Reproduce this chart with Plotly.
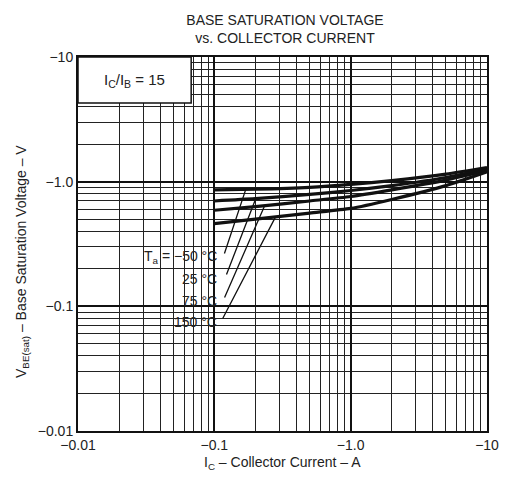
import numpy as np
import plotly.graph_objects as go

# ---- data ----
ic = [-0.1, -0.2, -0.5, -1.0, -2.0, -5.0, -10.0]
vbe_m50 = [-0.86, -0.87, -0.90, -0.95, -1.02, -1.15, -1.30]
vbe_25 = [-0.70, -0.73, -0.79, -0.85, -0.93, -1.08, -1.27]
vbe_75 = [-0.59, -0.63, -0.70, -0.76, -0.86, -1.03, -1.23]
vbe_150 = [-0.46, -0.50, -0.56, -0.61, -0.72, -0.93, -1.20]
temps = ["T<sub>a</sub> = −50 °C", "25 °C", "75 °C", "150 °C"]
series = [vbe_m50, vbe_25, vbe_75, vbe_150]

x_ticks = [-0.01, -0.1, -1.0, -10]
x_ticktext = ["−0.01", "−0.1", "−1.0", "−10"]
y_ticks = [-0.01, -0.1, -1.0, -10]
y_ticktext = ["−0.01", "−0.1", "−1.0", "−10"]

FONT = "Liberation Sans, Arial, sans-serif"
W, H = 511, 497
L, R, T, B = 78, 21, 57, 66
pw, ph = W - L - R, H - T - B

def px_to_logx(px):
    return -2 + 3 * (px - L) / pw

def py_to_logy(py):
    return 1 - 3 * (py - T) / ph

minor_vals = [k * 10.0 ** d for d in range(-2, 1) for k in range(2, 10)]

fig = go.Figure()
xa = np.abs(np.array(ic))
for s in series:
    fig.add_trace(go.Scatter(x=xa, y=np.abs(np.array(s)), mode="lines",
                             line=dict(color="#111", width=3.2, shape="spline", smoothing=0.6),
                             showlegend=False, hoverinfo="skip"))

axis_common = dict(type="log", showline=True, linecolor="#111", linewidth=2, mirror=True,
                   showgrid=True, gridcolor="#111", gridwidth=1.6, zeroline=False,
                   ticks="", tickfont=dict(family=FONT, size=14, color="#222"),
                   minor=dict(tickvals=minor_vals, showgrid=True, gridcolor="#222", gridwidth=1, ticks=""))

fig.update_xaxes(**axis_common, range=[-2, 1], tickvals=np.abs(x_ticks), ticktext=x_ticktext)
fig.update_yaxes(**axis_common, range=[-2, 1], tickvals=np.abs(y_ticks), ticktext=y_ticktext)

# Ic/Ib box
fig.add_shape(type="rect", xref="paper", yref="paper", x0=0, x1=(192 - L) / pw,
              y0=1 - (103 - T) / ph, y1=1, fillcolor="white",
              line=dict(color="#111", width=1.5), layer="above")
fig.add_annotation(xref="paper", yref="paper", x=(135 - L) / pw, y=1 - (80 - T) / ph,
                   xanchor="center", yanchor="middle",
                   text="I<sub>C</sub>/I<sub>B</sub> = 15", showarrow=False,
                   font=dict(family=FONT, size=15, color="#222"))

# temperature labels + leader lines
label_py = [257, 279, 301, 322]
tails = [(225, 255), (227, 276), (225, 299), (223, 320)]
head_px = [247, 257, 266, 277]
lx = np.log10(xa)
for i, s in enumerate(series):
    fig.add_annotation(xref="x", yref="y", x=px_to_logx(220), y=py_to_logy(label_py[i]),
                       xanchor="right", yanchor="middle", text=temps[i], showarrow=False,
                       font=dict(family=FONT, size=14, color="#222"))
    hx = px_to_logx(head_px[i])
    hy = np.interp(hx, lx, np.log10(np.abs(np.array(s))))
    fig.add_annotation(xref="x", yref="y", x=hx, y=hy, axref="x", ayref="y",
                       ax=px_to_logx(tails[i][0]), ay=py_to_logy(tails[i][1]),
                       text="", showarrow=True, arrowhead=0, arrowwidth=1.3, arrowcolor="#111")

# axis titles
fig.add_annotation(xref="paper", yref="paper", x=0, y=1 - (262 - T) / ph, xshift=-56,
                   xanchor="center", yanchor="middle",
                   text="V<sub>BE(sat)</sub> – Base Saturation Voltage – V", textangle=-90,
                   showarrow=False, font=dict(family=FONT, size=14, color="#222"))
fig.add_annotation(xref="paper", yref="paper", x=(284 - L) / pw, y=0, yshift=-32,
                   xanchor="center", yanchor="middle",
                   text="I<sub>C</sub> – Collector Current – A", showarrow=False,
                   font=dict(family=FONT, size=14, color="#222"))

fig.update_layout(
    width=W, height=H, margin=dict(l=L, r=R, t=T, b=B),
    paper_bgcolor="white", plot_bgcolor="white",
    title=dict(text="BASE SATURATION VOLTAGE<br>vs. COLLECTOR CURRENT", x=285 / W, xanchor="center",
               y=1 - 25 / H, yanchor="middle", font=dict(family=FONT, size=14, color="#222")),
)

fig.write_html("out.html", config={"displayModeBar": False},
               post_script="document.body.style.margin='0';")
